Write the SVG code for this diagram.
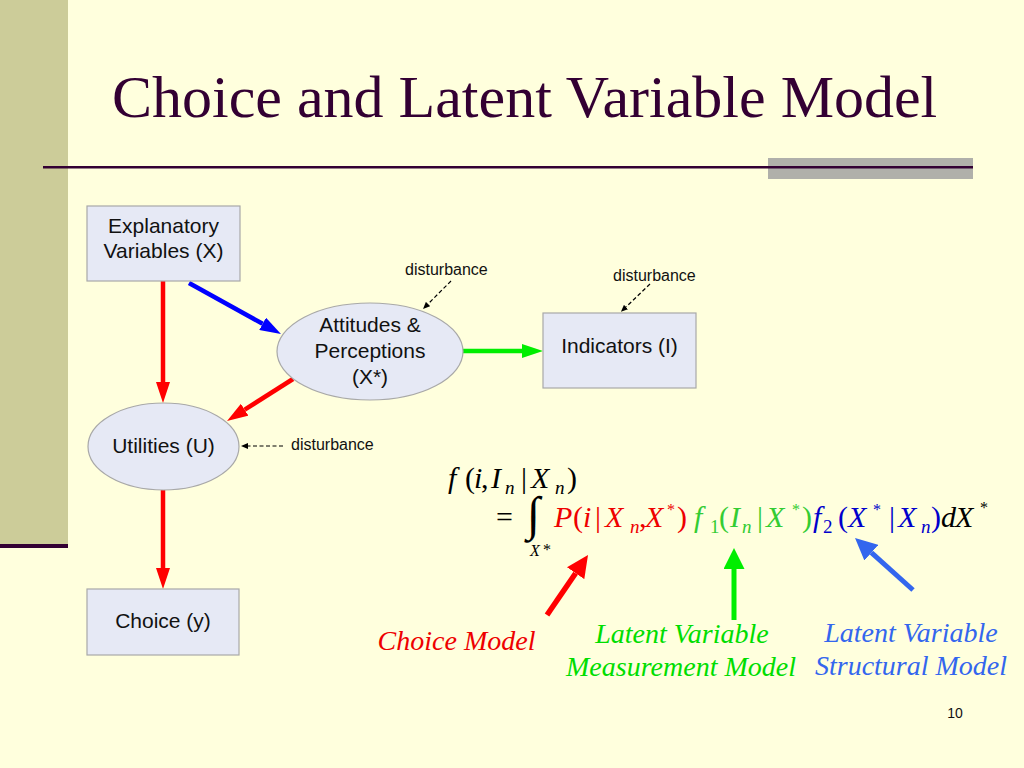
<svg xmlns="http://www.w3.org/2000/svg" width="1024" height="768" viewBox="0 0 1024 768">
<defs>
<style>
.node{fill:#E6E9F5;stroke:#A8A8A8;stroke-width:1.2}
.nt{font-family:"Liberation Sans",Arial,sans-serif;font-size:21px;fill:#111;text-anchor:middle}
.dist{font-family:"Liberation Sans",Arial,sans-serif;font-size:16px;fill:#111}
.thick{fill:none;stroke-width:4.5}
.dash{fill:none;stroke:#000;stroke-width:1.2;stroke-dasharray:4 2.5}
.m{font-family:"Liberation Serif","Times New Roman",serif;font-size:30px}
.it{font-style:italic}
.sub{font-size:19px}
.sup{font-size:16px}
.lbl{font-family:"Liberation Serif","Times New Roman",serif;font-style:italic;font-size:28px;text-anchor:middle}
</style>
<marker id="hr" viewBox="0 0 21 14" refX="0" refY="7" markerWidth="21" markerHeight="14" markerUnits="userSpaceOnUse" orient="auto"><path d="M0,0 L21,7 L0,14 z" fill="#FF0000"/></marker>
<marker id="hb" viewBox="0 0 21 14" refX="0" refY="7" markerWidth="21" markerHeight="14" markerUnits="userSpaceOnUse" orient="auto"><path d="M0,0 L21,7 L0,14 z" fill="#0000FF"/></marker>
<marker id="hg" viewBox="0 0 21 14" refX="0" refY="7" markerWidth="21" markerHeight="14" markerUnits="userSpaceOnUse" orient="auto"><path d="M0,0 L21,7 L0,14 z" fill="#00EE00"/></marker>
<marker id="hk" viewBox="0 0 7 6" refX="0" refY="3" markerWidth="7" markerHeight="6" markerUnits="userSpaceOnUse" orient="auto"><path d="M0,0 L7,3 L0,6 z" fill="#000"/></marker>
<marker id="br" viewBox="0 0 22 21" refX="0" refY="10.5" markerWidth="22" markerHeight="21" markerUnits="userSpaceOnUse" orient="auto"><path d="M0,0 L22,10.5 L0,21 z" fill="#FF0000"/></marker>
<marker id="bg" viewBox="0 0 21 21" refX="0" refY="10.5" markerWidth="21" markerHeight="21" markerUnits="userSpaceOnUse" orient="auto"><path d="M0,0 L21,10.5 L0,21 z" fill="#00EE00"/></marker>
<marker id="bb" viewBox="0 0 22 21" refX="0" refY="10.5" markerWidth="22" markerHeight="21" markerUnits="userSpaceOnUse" orient="auto"><path d="M0,0 L22,10.5 L0,21 z" fill="#3366EE"/></marker>
</defs>

<g id="background">
<rect x="0" y="0" width="1024" height="768" fill="#FFFFDD"/>
<rect x="0" y="0" width="68" height="545" fill="#CCCC99"/>
<rect x="0" y="544" width="68" height="4" fill="#330033"/>
<rect x="768" y="158" width="205" height="21" fill="#B0B0AA"/>
<rect x="43" y="166" width="930" height="2.5" fill="#330033"/>
<text x="112" y="117" font-family="'Liberation Serif','Times New Roman',serif" font-size="60" fill="#330033">Choice and Latent Variable Model</text>
</g>

<g id="connectors">
<path class="thick" stroke="#FF0000" d="M163,281 L163,382" marker-end="url(#hr)"/>
<path class="thick" stroke="#0000FF" d="M189,283 L262.6,323.8" marker-end="url(#hb)"/>
<path class="thick" stroke="#FF0000" d="M293,379 L244.7,409.7" marker-end="url(#hr)"/>
<path class="thick" stroke="#00EE00" d="M463,351 L522,351" marker-end="url(#hg)"/>
<path class="thick" stroke="#FF0000" d="M163,490 L163,568" marker-end="url(#hr)"/>
<path class="dash" d="M451,281 L428,304" marker-end="url(#hk)"/>
<path class="dash" d="M650,284 L626,307" marker-end="url(#hk)"/>
<path class="dash" d="M283,446 L248,446" marker-end="url(#hk)"/>
<path fill="none" stroke="#FF0000" stroke-width="5.5" d="M547,615 L575.6,573.2" marker-end="url(#br)"/>
<path fill="none" stroke="#00EE00" stroke-width="5" d="M734,620 L734,569" marker-end="url(#bg)"/>
<path fill="none" stroke="#3366EE" stroke-width="5" d="M913,590 L871.4,552.7" marker-end="url(#bb)"/>
</g>

<g id="node-explanatory">
<rect class="node" x="87" y="206" width="153" height="75"/>
<text class="nt" x="163.5" y="233">Explanatory</text>
<text class="nt" x="163.5" y="258">Variables (X)</text>
</g>
<g id="node-attitudes">
<ellipse class="node" cx="370" cy="351.5" rx="93" ry="48.5"/>
<text class="nt" x="370" y="332">Attitudes &amp;</text>
<text class="nt" x="370" y="358">Perceptions</text>
<text class="nt" x="370" y="384">(X*)</text>
</g>
<g id="node-indicators">
<rect class="node" x="543" y="313" width="153" height="75"/>
<text class="nt" x="619.5" y="353">Indicators (I)</text>
</g>
<g id="node-utilities">
<ellipse class="node" cx="163.5" cy="446.5" rx="75.5" ry="43.5"/>
<text class="nt" x="163.5" y="453">Utilities (U)</text>
</g>
<g id="node-choice">
<rect class="node" x="87" y="589" width="152" height="66"/>
<text class="nt" x="163" y="628">Choice (y)</text>
</g>

<g id="disturbances">
<text class="dist" x="405" y="275">disturbance</text>
<text class="dist" x="613" y="281">disturbance</text>
<text class="dist" x="291" y="450">disturbance</text>
</g>

<g id="formula">
<text class="m" fill="#000">
<tspan class="it" x="448" y="488">f</tspan><tspan x="465" y="488">(</tspan><tspan class="it" x="474" y="488">i</tspan><tspan x="481" y="488">,</tspan><tspan class="it" x="491" y="488">I</tspan><tspan class="it sub" x="505" y="494">n</tspan><tspan x="521" y="488">|</tspan><tspan class="it" x="531" y="488">X</tspan><tspan class="it sub" x="555" y="494">n</tspan><tspan x="567" y="488">)</tspan>
</text>
<text class="m" fill="#000" x="496" y="527">=</text>
<text fill="#000" font-family="'Liberation Serif','Times New Roman',serif" font-size="48" x="527" y="530">∫</text>
<text class="m" fill="#000"><tspan class="it sup" x="530" y="556">X</tspan><tspan class="sup" x="543" y="555">*</tspan></text>
<text class="m" fill="#EE0000">
<tspan class="it" x="554" y="527">P</tspan><tspan x="573" y="527">(</tspan><tspan class="it" x="583" y="527">i</tspan><tspan x="595" y="527">|</tspan><tspan class="it" x="605" y="527">X</tspan><tspan class="it sub" x="630" y="533">n</tspan><tspan x="639" y="527">,</tspan><tspan class="it" x="645" y="527">X</tspan><tspan class="sup" x="667" y="515">*</tspan><tspan x="677" y="527">)</tspan>
</text>
<text class="m" fill="#33CC33">
<tspan class="it" x="694" y="527">f</tspan><tspan class="sub" x="710" y="533">1</tspan><tspan x="719" y="527">(</tspan><tspan class="it" x="730" y="527">I</tspan><tspan class="it sub" x="742" y="533">n</tspan><tspan x="757" y="527">|</tspan><tspan class="it" x="766" y="527">X</tspan><tspan class="sup" x="792" y="515">*</tspan><tspan x="802" y="527">)</tspan>
</text>
<text class="m" fill="#0000CC">
<tspan class="it" x="813" y="527">f</tspan><tspan class="sub" x="823" y="533">2</tspan><tspan x="838" y="527">(</tspan><tspan class="it" x="848" y="527">X</tspan><tspan class="sup" x="873" y="515">*</tspan><tspan x="889" y="527">|</tspan><tspan class="it" x="898" y="527">X</tspan><tspan class="it sub" x="921" y="533">n</tspan><tspan x="931" y="527">)</tspan>
</text>
<text class="m" fill="#000">
<tspan class="it" x="941" y="527">d</tspan><tspan class="it" x="955" y="527">X</tspan><tspan class="sup" x="980" y="513">*</tspan>
</text>
</g>

<g id="labels">
<text class="lbl" fill="#EE0000" x="456.5" y="650">Choice Model</text>
<text class="lbl" fill="#00DD00" x="682" y="643">Latent Variable</text>
<text class="lbl" fill="#00DD00" x="681" y="676">Measurement Model</text>
<text class="lbl" fill="#3366EE" x="911" y="642">Latent Variable</text>
<text class="lbl" fill="#3366EE" x="911" y="675">Structural Model</text>
<text font-family="'Liberation Sans',Arial,sans-serif" font-size="14" fill="#111" x="955" y="718" text-anchor="middle">10</text>
</g>
</svg>
